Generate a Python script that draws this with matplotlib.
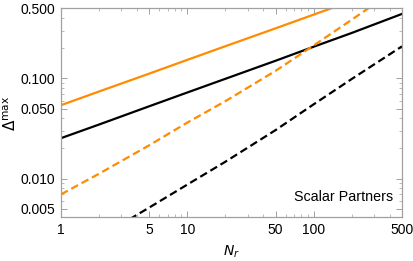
import matplotlib
matplotlib.use("Agg")
import matplotlib.pyplot as plt
from matplotlib.ticker import FixedLocator, NullFormatter, LogLocator

# values (log-log)
n_r = [1, 2, 5, 10, 20, 50, 100, 200, 500]
orange_solid = [0.054, 0.0739, 0.1116, 0.153, 0.2094, 0.316, 0.433, 0.593, 0.90]
black_solid = [0.0253, 0.0346, 0.0527, 0.0723, 0.099, 0.150, 0.207, 0.284, 0.44]
orange_dashed = [0.00695, 0.01117, 0.0215, 0.0362, 0.0592, 0.119, 0.213, 0.385, 0.85]
n_r_black_dashed = [2, 3, 5, 10, 20, 50, 100, 200, 500]
black_dashed = [0.00263, 0.00351, 0.00514, 0.00871, 0.01472, 0.0305, 0.0551, 0.0986, 0.209]

x_ticks = [1, 5, 10, 50, 100, 500]
y_ticks = [0.005, 0.010, 0.050, 0.100, 0.500]
y_tick_labels = ["0.005", "0.010", "0.050", "0.100", "0.500"]

plt.rcParams['font.family'] = ['Liberation Sans', 'DejaVu Sans']

fig = plt.figure(figsize=(4.14, 2.61), dpi=100)
ax = fig.add_axes([0.147, 0.167, 0.824, 0.801])

orange = "#ff8c00"
ax.plot(n_r, orange_solid, color=orange, lw=1.6)
ax.plot(n_r, black_solid, color="black", lw=1.6)
ax.plot(n_r, orange_dashed, color=orange, lw=1.6, ls=(0, (3.5, 1.8)))
ax.plot(n_r_black_dashed, black_dashed, color="black", lw=1.6, ls=(0, (3.5, 1.8)))

ax.set_xscale("log")
ax.set_yscale("log")
ax.set_xlim(1, 500)
ax.set_ylim(0.0041, 0.5)

ax.xaxis.set_major_locator(FixedLocator(x_ticks))
ax.set_xticklabels([str(t) for t in x_ticks])
ax.xaxis.set_minor_locator(LogLocator(base=10, subs=range(2, 10)))
ax.xaxis.set_minor_formatter(NullFormatter())
ax.yaxis.set_major_locator(FixedLocator(y_ticks))
ax.set_yticklabels(y_tick_labels)
ax.yaxis.set_minor_locator(LogLocator(base=10, subs=range(2, 10)))
ax.yaxis.set_minor_formatter(NullFormatter())

gray = "#a0a0a0"
for s in ax.spines.values():
    s.set_color(gray)
    s.set_linewidth(0.9)
ax.tick_params(which="both", direction="in", top=True, right=True, color=gray,
               labelsize=10, labelcolor="black", pad=4)
ax.tick_params(which="major", length=4, width=0.7)
ax.tick_params(which="minor", length=2, width=0.5)

ax.set_xlabel("$N_r$", fontsize=10, labelpad=5)
ax.set_ylabel(r"$\Delta^{\mathrm{max}}$", fontsize=11, labelpad=1)

ax.text(0.975, 0.1, "Scalar Partners", transform=ax.transAxes,
        ha="right", va="center", fontsize=10.3)

fig.savefig("out.png", dpi=100)
